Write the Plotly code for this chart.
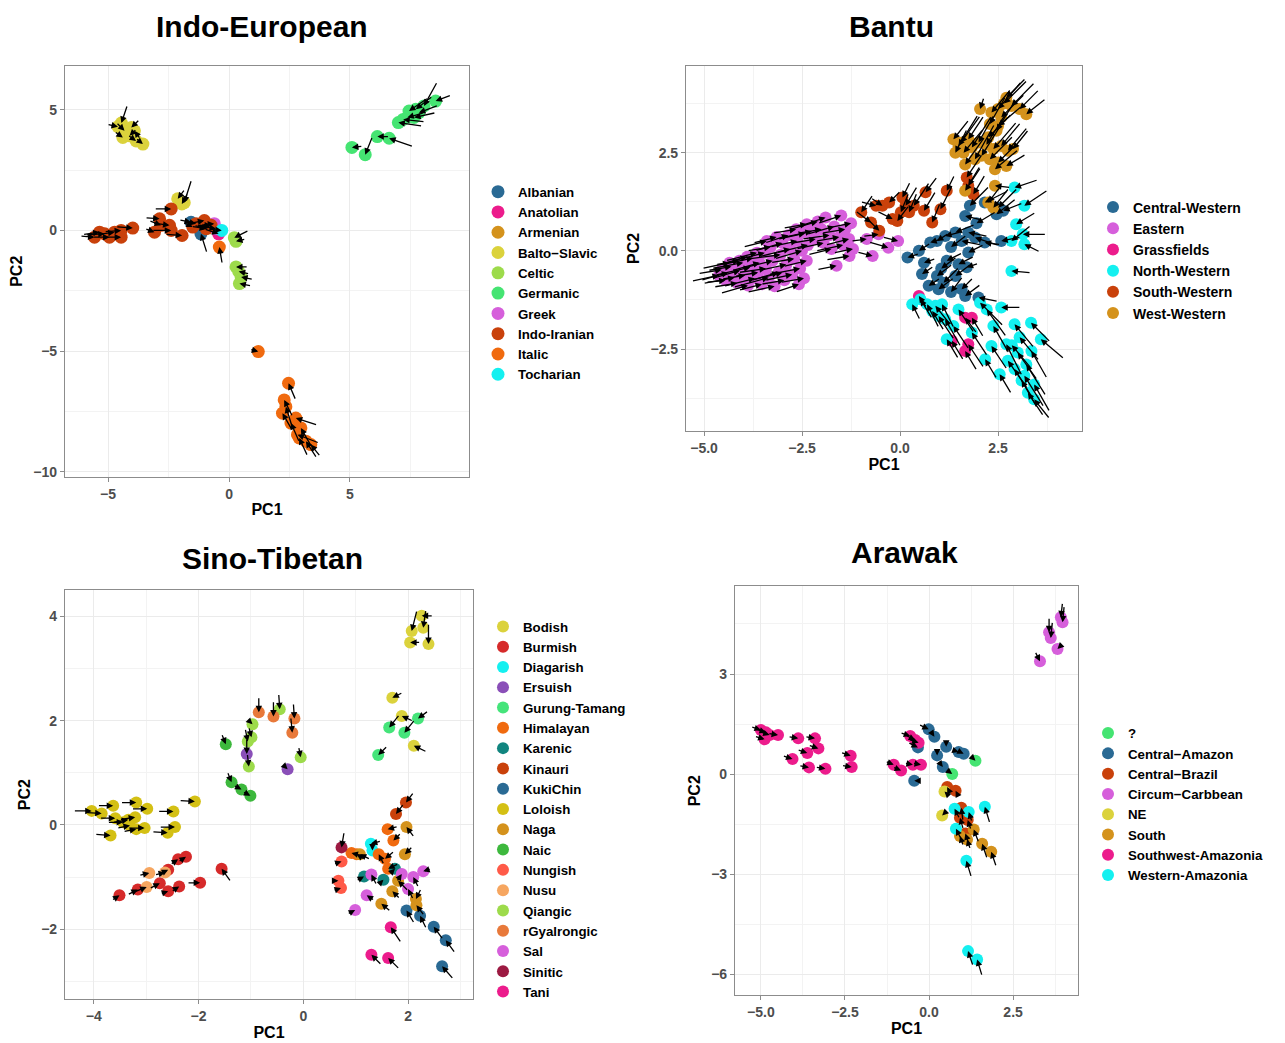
import plotly.graph_objects as go

# ---------------- DATA (x, y, tail_dx, tail_dy) ----------------
# Indo-European
ie_albanian = [(-1.57, 0.34, -0.5, 0.1), (-1.16, -0.14, 0.25, -0.8)]
ie_anatolian = [(-0.43, -0.14, -0.6, 0.2)]
ie_armenian = [(-0.85, 0.10, -0.6, 0.1)]
ie_balto_slavic = [(-4.45, 4.45, 0.25, 0.75), (-4.59, 4.30, -0.45, 0.1), (-4.32, 4.13, -0.35, 0.35),
                   (-4.04, 4.26, 0.35, 0.35), (-4.39, 3.85, -0.35, 0.25), (-4.11, 3.92, 0.3, 0.3),
                   (-3.84, 3.71, -0.35, 0.25), (-3.56, 3.58, -0.3, 0.25), (-3.91, 4.13, 0.25, -0.35),
                   (-2.12, 1.31, 0.3, 0.4), (-1.85, 1.15, 0.3, 0.95), (-1.95, 1.10, 0.25, 0.45)]
ie_celtic = [(0.22, -0.30, 0.6, 0.3), (0.29, -0.45, 0.4, 0.1), (0.29, -1.51, 0.5, 0.0),
             (0.40, -1.70, 0.45, -0.1), (0.50, -1.93, 0.5, -0.1), (0.43, -2.20, 0.5, -0.1)]
ie_germanic = [(5.08, 3.44, 0.45, 0.05), (5.63, 3.14, 0.3, 0.75), (6.13, 3.89, 0.5, 0.0),
               (6.62, 3.82, 1.0, -0.35), (7.00, 4.47, 1.0, -0.15), (7.37, 4.68, 0.7, 0.2),
               (7.44, 4.95, 0.8, 0.55), (7.72, 5.02, 0.7, 0.55), (8.06, 5.16, 0.55, 1.0),
               (8.54, 5.36, 0.65, 0.25), (7.65, 4.68, 0.9, 0.2), (7.85, 4.88, 0.8, 0.3),
               (7.20, 4.60, 0.9, -0.1)]
ie_greek = [(-0.61, 0.28, -0.5, -0.05), (-0.54, 0.07, -0.6, 0.1)]
ie_indo_iranian = [(-5.56, -0.28, -0.6, 0.05), (-5.35, -0.07, -0.7, -0.1), (-5.14, -0.14, -0.8, -0.05),
                   (-4.94, -0.28, -0.7, 0.0), (-4.73, -0.07, -0.7, -0.1), (-4.46, 0.00, -0.7, -0.05),
                   (-4.46, -0.28, -0.6, 0.0), (-3.98, 0.10, -0.7, 0.05), (-2.39, 0.89, -0.7, 0.0),
                   (-2.87, 0.48, -0.6, 0.05), (-3.08, -0.07, -0.4, 0.15), (-2.81, 0.21, -0.5, 0.2),
                   (-2.46, 0.21, -0.7, 0.1), (-2.39, 0.00, -0.8, 0.0), (-1.94, -0.21, -0.7, 0.05),
                   (-1.50, 0.14, -0.4, 0.2), (-1.02, 0.41, -0.5, -0.1), (-0.95, 0.07, -0.6, 0.1),
                   (-1.36, 0.28, -0.5, 0.1), (-0.74, 0.21, -0.6, 0.0)]
ie_italic = [(-0.40, -0.69, 0.12, -0.7), (1.21, -5.02, -0.35, 0.1), (2.46, -6.33, 0.3, -0.7),
             (2.28, -7.02, 0.35, -0.7), (2.21, -7.57, 0.4, -0.7), (2.76, -7.77, 0.9, -0.3),
             (2.56, -7.98, 0.35, -0.8), (2.83, -8.46, 0.9, -0.35), (2.97, -8.18, 0.45, -0.8),
             (3.18, -8.73, 0.45, -0.7), (3.38, -8.87, 0.4, -0.5), (2.90, -8.60, 0.35, -0.75),
             (2.35, -7.30, 0.25, -0.8)]
ie_tocharian = [(-0.30, 0.00, -0.5, 0.05)]

# Bantu
ba_central_western = [(1.78, 1.15, 0.5, 0.5), (1.66, 0.89, 0.4, -0.1), (2.16, 1.23, 0.6, 0.3),
                      (2.50, 1.10, 0.5, 0.5), (2.63, 1.02, 0.5, 0.2), (2.46, 0.93, 0.5, 0.4),
                      (1.74, 0.47, 0.5, -0.1), (1.41, 0.47, 0.5, 0.2), (1.15, 0.38, 0.4, 0.1),
                      (0.94, 0.25, 0.3, 0.2), (1.57, 0.25, 0.5, -0.1), (1.91, 0.34, 0.6, -0.2),
                      (1.74, -0.04, 0.4, 0.2), (2.16, 0.21, 0.4, -0.05), (2.58, 0.25, 0.5, 0.1),
                      (0.77, 0.21, 0.3, 0.1), (0.48, 0.00, 0.3, 0.2), (0.19, -0.17, 0.3, 0.1),
                      (0.61, -0.30, 0.3, 0.1), (1.19, -0.25, 0.4, 0.2), (1.49, -0.34, 0.4, 0.2),
                      (1.70, -0.42, 0.3, 0.1), (0.56, -0.59, 0.3, 0.2), (0.94, -0.64, 0.4, 0.3),
                      (0.73, -0.89, 0.3, 0.2), (1.11, -0.81, 0.4, 0.4), (1.41, -0.64, 0.4, 0.3),
                      (1.57, -0.98, 0.3, 0.3), (1.66, -1.15, 0.4, 0.3), (2.00, -1.19, 0.5, -0.1),
                      (0.98, -0.98, 0.4, 0.3), (1.30, -1.05, 0.3, 0.4), (1.95, 0.70, 0.5, 0.3),
                      (1.30, 0.10, 0.4, 0.3), (1.05, -0.45, 0.4, 0.3)]
ba_eastern = [(-4.62, -0.62, -0.7, -0.15), (-4.55, -0.48, -0.6, -0.1), (-4.45, -0.75, -0.5, -0.05),
              (-4.38, -0.55, -0.7, -0.2), (-4.30, -0.40, -0.6, -0.1), (-4.22, -0.68, -0.8, -0.15),
              (-4.15, -0.82, -0.6, -0.1), (-4.08, -0.50, -0.7, -0.2), (-4.00, -0.30, -0.8, -0.15),
              (-3.95, -0.62, -0.6, -0.1), (-3.88, -0.88, -0.7, -0.2), (-3.82, -0.42, -0.9, -0.2),
              (-3.75, -0.18, -0.7, -0.15), (-3.70, -0.70, -0.8, -0.2), (-3.62, -0.55, -0.6, -0.1),
              (-3.58, -0.30, -0.7, -0.2), (-3.52, -0.85, -0.6, -0.15), (-3.45, -0.05, -0.8, -0.2),
              (-3.42, -0.45, -0.7, -0.1), (-3.35, -0.68, -0.9, -0.25), (-3.30, 0.10, -0.6, -0.1),
              (-3.25, -0.25, -0.8, -0.2), (-3.20, -0.90, -0.7, -0.15), (-3.15, 0.35, -0.6, -0.15),
              (-3.10, -0.55, -0.7, -0.2), (-3.05, -0.10, -0.8, -0.1), (-3.00, 0.20, -0.7, -0.2),
              (-2.95, -0.75, -0.6, -0.1), (-2.90, -0.35, -0.7, -0.15), (-2.85, 0.40, -0.6, -0.2),
              (-2.80, 0.05, -0.8, -0.2), (-2.75, -0.60, -0.7, -0.15), (-2.70, -0.20, -0.6, -0.1),
              (-2.62, 0.25, -0.7, -0.15), (-2.58, -0.85, -0.6, -0.2), (-2.55, -0.45, -0.8, -0.15),
              (-2.50, 0.00, -0.7, -0.2), (-2.45, -0.70, -0.6, -0.1), (-2.42, 0.45, -0.7, -0.15),
              (-2.38, -0.25, -0.6, -0.15), (-2.35, 0.15, -0.8, -0.2), (-2.38, 0.68, -0.6, -0.1),
              (-2.25, 0.50, -0.7, -0.15), (-2.15, 0.30, -0.6, -0.1), (-2.10, 0.75, -0.7, -0.2),
              (-2.00, 0.55, -0.6, -0.1), (-1.95, 0.20, -0.7, -0.15), (-1.90, 0.85, -0.6, -0.2),
              (-1.80, 0.40, -0.7, -0.1), (-1.75, 0.05, -0.6, -0.15), (-1.68, 0.62, -0.7, -0.2),
              (-1.62, -0.38, -0.5, -0.1), (-1.55, 0.35, -0.6, -0.1), (-1.50, 0.90, -0.6, -0.2),
              (-1.45, 0.15, -0.7, -0.15), (-1.40, 0.55, -0.6, -0.1), (-1.30, 0.30, -0.6, -0.15),
              (-1.29, -0.13, -0.6, -0.1), (-1.25, 0.70, -0.5, -0.1), (-1.20, 0.05, -0.5, -0.1),
              (-0.85, 0.30, -0.4, -0.05), (-0.70, -0.13, -0.4, 0.1), (-0.55, 0.42, -0.4, -0.05),
              (-0.30, 0.08, -0.5, 0.15), (-0.05, 0.25, -0.4, 0.1), (-4.35, -0.30, -0.7, -0.15),
              (-3.90, -0.15, -0.7, -0.2), (-3.40, 0.25, -0.6, -0.15), (-3.65, -0.05, -0.8, -0.2),
              (-4.10, -0.25, -0.6, -0.1), (-3.00, -0.55, -0.8, -0.2), (-2.65, 0.55, -0.6, -0.1)]
ba_grassfields = [(0.48, -1.15, 0.2, -0.3), (1.66, -1.70, 0.3, -0.4), (1.83, -1.70, 0.3, -0.5),
                  (1.32, -2.29, 0.3, -0.5), (1.66, -2.55, 0.3, -0.5), (1.74, -2.38, 0.4, -0.6)]
ba_north_western = [(2.92, 1.61, 0.6, 0.2), (3.17, 1.15, 0.6, 0.4), (2.96, 0.68, 0.5, 0.3),
                    (3.13, 0.42, 0.6, 0.0), (2.84, 0.25, 0.5, 0.4), (3.17, 0.17, 0.4, -0.2),
                    (2.84, -0.51, 0.5, -0.05), (0.31, -1.36, 0.2, -0.4), (0.52, -1.23, 0.3, -0.5),
                    (0.69, -1.36, 0.3, -0.6), (0.90, -1.40, 0.4, -0.5), (1.07, -1.36, 0.3, -0.6),
                    (0.98, -1.66, 0.4, -0.6), (0.82, -1.53, 0.3, -0.5), (1.15, -1.74, 0.4, -0.7),
                    (1.36, -1.91, 0.4, -0.6), (1.19, -2.25, 0.3, -0.5), (1.49, -1.49, 0.4, -0.6),
                    (2.04, -1.32, 0.6, -0.6), (2.21, -1.49, 0.5, -0.7), (2.58, -1.44, 0.5, 0.0),
                    (2.38, -1.91, 0.4, -0.7), (2.92, -1.87, 0.5, -0.6), (3.34, -1.83, 0.5, -0.5),
                    (3.59, -2.25, 0.6, -0.5), (2.71, -2.38, 0.4, -0.8), (2.17, -2.76, 0.3, -0.5),
                    (2.54, -3.14, 0.3, -0.5), (2.75, -2.80, 0.5, -0.7), (2.92, -3.01, 0.5, -0.8),
                    (3.17, -3.18, 0.5, -0.8), (3.42, -3.40, 0.4, -0.7), (3.26, -3.61, 0.4, -0.6),
                    (3.42, -3.78, 0.4, -0.5), (3.00, -2.59, 0.5, -0.7), (3.22, -2.89, 0.5, -0.8),
                    (2.33, -2.42, 0.4, -0.6), (1.83, -2.08, 0.4, -0.6), (3.05, -2.20, 0.5, -0.6),
                    (3.35, -2.55, 0.4, -0.7), (3.10, -3.30, 0.4, -0.7), (2.85, -2.40, 0.5, -0.6)]
ba_south_western = [(-0.99, 0.98, 0.3, 0.45), (-0.74, 0.72, -0.4, 0.3), (-0.61, 1.15, -0.4, 0.1),
                    (-0.53, 0.51, -0.3, 0.3), (-0.45, 1.15, -0.3, 0.2), (-0.28, 1.23, 0.3, 0.3),
                    (-0.19, 0.81, -0.4, 0.2), (-0.07, 0.76, 0.3, 0.4), (0.02, 0.98, 0.2, 0.5),
                    (0.06, 1.36, 0.2, 0.4), (0.14, 1.15, 0.3, 0.5), (0.23, 0.98, 0.2, 0.5),
                    (0.35, 1.15, 0.4, 0.6), (0.61, 1.02, 0.3, 0.5), (0.65, 1.49, 0.3, 0.4),
                    (0.82, 0.72, 0.2, 0.5), (1.03, 1.06, 0.3, 0.6), (1.19, 1.53, 0.2, 0.4),
                    (1.70, 1.87, 0.4, 0.6), (1.74, 1.66, 0.3, 0.5), (1.87, 1.44, 0.3, 0.5)]
ba_west_western = [(2.71, 3.90, 0.5, 0.5), (2.84, 3.69, 0.6, 0.6), (3.05, 3.61, 0.5, 0.5),
                   (3.22, 3.48, 0.5, 0.4), (2.04, 3.61, 0.1, 0.3), (2.33, 3.52, 0.5, 0.6),
                   (2.50, 3.61, 0.6, 0.7), (2.58, 3.40, 0.6, 0.6), (2.29, 3.23, 0.4, 0.7),
                   (2.46, 3.06, 0.5, 0.8), (2.50, 3.18, 0.6, 0.5), (1.36, 2.84, 0.4, 0.5),
                   (1.49, 2.67, 0.5, 0.8), (1.41, 2.50, 0.3, 0.6), (1.62, 2.50, 0.5, 0.6),
                   (1.74, 2.84, 0.4, 0.6), (1.83, 2.63, 0.5, 0.8), (2.00, 2.76, 0.4, 0.7),
                   (2.25, 2.89, 0.6, 0.6), (2.38, 2.59, 0.6, 0.7), (2.58, 2.67, 0.5, 0.6),
                   (2.75, 2.55, 0.5, 0.6), (2.88, 2.59, 0.4, 0.5), (2.08, 2.42, 0.5, 0.8),
                   (2.29, 2.33, 0.6, 0.6), (2.50, 2.25, 0.5, 0.5), (2.71, 2.16, 0.5, 0.3),
                   (2.42, 2.08, 0.6, 0.5), (1.91, 2.33, 0.5, 0.9), (1.66, 2.20, 0.5, 0.7),
                   (2.42, 1.66, 0.4, -0.05), (1.66, 1.53, 0.4, 0.6), (2.25, 1.23, 0.3, 0.4),
                   (2.38, 1.10, 0.4, 0.5), (1.55, 2.75, 0.5, 0.7), (2.65, 3.75, 0.6, 0.6),
                   (2.20, 2.70, 0.5, 0.8)]

# Sino-Tibetan
st_bodish = [(2.26, 4.01, 0.22, 0.0), (2.07, 3.72, 0.1, 0.4), (2.29, 3.78, 0.05, 0.35),
             (2.04, 3.50, 0.2, 0.0), (2.39, 3.47, 0.0, 0.4), (1.70, 2.44, 0.2, 0.1),
             (1.88, 2.09, 0.22, -0.1), (2.11, 1.52, 0.25, -0.12)]
st_burmish = [(-2.24, -0.61, -0.15, -0.1), (-2.39, -0.66, -0.15, -0.1), (-2.58, -0.86, -0.2, -0.1),
              (-2.74, -1.12, -0.2, -0.1), (-2.37, -1.18, -0.15, -0.1), (-2.58, -1.27, -0.15, -0.05),
              (-3.16, -1.24, -0.2, -0.1), (-3.51, -1.35, -0.15, -0.1), (-1.97, -1.11, -0.25, 0.0),
              (-1.56, -0.84, 0.18, -0.25)]
st_diagarish = [(1.29, -0.36, 0.2, 0.05), (1.32, -0.49, 0.0, 0.12)]
st_ersuish = [(-1.08, 1.36, 0.0, 0.3), (-0.30, 1.07, -0.1, 0.1)]
st_gurung_tamang = [(2.19, 2.04, 0.2, 0.15), (1.64, 1.87, 0.2, 0.25), (1.93, 1.77, 0.2, 0.25),
                    (1.43, 1.34, 0.18, 0.18)]
st_himalayan = [(1.61, -0.08, 0.2, 0.05), (1.72, -0.30, 0.15, 0.15), (1.56, -0.65, 0.18, 0.15),
                (1.44, -0.56, 0.1, -0.2), (0.92, -0.54, 0.2, -0.05), (1.62, -0.84, 0.2, 0.1),
                (1.02, -0.56, 0.15, -0.1)]
st_karenic = [(1.75, -0.84, -0.1, -0.1), (1.16, -0.99, -0.15, -0.08), (1.53, -1.05, -0.1, -0.1)]
st_kinauri = [(1.96, 0.43, 0.15, 0.2), (1.77, 0.21, 0.15, 0.2)]
st_kukichin = [(1.97, -1.64, 0.15, -0.25), (2.23, -1.74, 0.12, -0.25), (2.49, -1.95, 0.18, -0.25),
               (2.72, -2.21, 0.18, -0.25), (2.65, -2.71, 0.22, -0.25)]
st_loloish = [(-4.04, 0.27, -0.35, 0.0), (-3.85, 0.22, -0.3, 0.02), (-3.63, 0.37, -0.3, 0.0),
              (-3.19, 0.43, -0.3, 0.0), (-2.98, 0.31, -0.3, 0.0), (-2.48, 0.26, -0.3, 0.0),
              (-2.45, -0.04, -0.3, 0.0), (-2.59, -0.15, -0.3, 0.02), (-2.07, 0.45, -0.3, 0.02),
              (-3.59, 0.13, -0.3, 0.0), (-3.44, 0.05, -0.3, 0.0), (-3.34, 0.10, -0.3, -0.05),
              (-3.21, 0.15, -0.3, -0.05), (-3.31, -0.01, -0.25, -0.05), (-3.19, -0.08, -0.25, -0.05),
              (-3.03, -0.06, -0.3, 0.0), (-3.68, -0.20, -0.3, 0.02)]
st_naga = [(1.97, -0.04, 0.15, -0.2), (1.94, -0.56, 0.15, 0.15), (1.49, -1.51, 0.18, -0.15),
           (1.70, -1.27, 0.15, -0.15), (2.15, -1.42, 0.1, 0.2), (2.16, -1.54, 0.15, -0.2),
           (1.81, -1.07, 0.2, -0.2), (1.08, -0.56, 0.2, -0.1)]
st_naic = [(-1.48, 1.55, -0.08, 0.2), (-1.37, 0.82, -0.08, 0.2), (-1.18, 0.68, -0.15, 0.08),
           (-1.01, 0.56, -0.15, 0.08)]
st_nungish = [(0.73, -0.70, -0.15, -0.05), (0.67, -1.07, -0.12, 0.0), (0.72, -1.21, -0.15, -0.05)]
st_nusu = [(-2.94, -0.92, -0.2, -0.05), (-2.99, -1.19, -0.25, -0.1), (-2.64, -0.91, -0.2, -0.05)]
st_qiangic = [(-0.97, 1.93, -0.1, 0.1), (-1.06, 1.60, -0.05, 0.25), (-0.99, 1.68, -0.05, 0.2),
              (-1.04, 1.12, -0.03, 0.25), (-0.45, 2.22, -0.02, 0.3), (-0.05, 1.30, -0.04, 0.2)]
st_rgyalrongic = [(-0.85, 2.16, 0.0, 0.3), (-0.57, 2.08, 0.0, 0.3), (-0.17, 2.04, -0.02, 0.3),
                  (-0.21, 1.77, -0.03, 0.3)]
st_sal = [(1.30, -0.95, 0.1, -0.2), (1.88, -0.94, -0.1, -0.15), (2.10, -1.00, 0.1, -0.2),
          (2.29, -0.89, 0.15, 0.05), (2.00, -1.23, 0.1, -0.2), (1.21, -1.35, 0.15, -0.1),
          (0.99, -1.63, -0.15, -0.08)]
st_sinitic = [(0.73, -0.43, 0.05, 0.3)]
st_tani = [(1.67, -1.96, 0.2, -0.3), (1.30, -2.49, 0.2, -0.2), (1.62, -2.55, 0.22, -0.22)]

# Arawak
ar_unknown = [(1.38, 0.40, -0.1, 0.1), (0.69, 0.00, -0.2, 0.15)]
ar_central_amazon = [(-0.01, 1.34, -0.3, 0.15), (0.16, 1.12, -0.1, 0.15), (-0.33, 0.80, -0.3, 0.15),
                     (0.51, 0.82, 0.0, 0.2), (0.88, 0.66, -0.15, 0.05), (1.03, 0.61, -0.1, 0.05),
                     (0.24, 0.56, 0.0, 0.2), (0.41, 0.21, -0.15, 0.2), (-0.44, -0.20, 0.2, 0.0)]
ar_central_brazil = [(0.54, -0.39, 0.1, -0.2), (0.79, -0.50, 0.1, -0.2), (0.96, -1.01, 0.05, -0.4),
                     (0.92, -1.31, 0.1, -0.35), (1.15, -1.38, 0.1, -0.3), (1.08, -1.78, 0.1, -0.3)]
ar_circum_carbbean = [(3.97, 4.55, 0.05, 0.5), (3.92, 4.70, 0.05, 0.45), (3.57, 4.25, 0.0, 0.45),
                      (3.62, 4.08, 0.05, 0.5), (3.82, 3.75, 0.15, 0.15), (3.30, 3.38, -0.15, 0.3)]
ar_ne = [(0.46, -0.52, 0.1, -0.1), (0.39, -1.24, 0.1, 0.1)]
ar_south = [(1.33, -1.66, 0.15, -0.4), (1.58, -2.09, 0.15, -0.45), (1.85, -2.33, 0.15, -0.45),
            (0.92, -1.86, 0.1, -0.3), (1.13, -1.96, 0.1, -0.3)]
ar_southwest_amazonia = [(-5.00, 1.32, -0.3, 0.1), (-4.89, 1.04, -0.3, 0.1), (-4.74, 1.17, -0.3, 0.1),
                         (-4.49, 1.17, -0.3, 0.05), (-3.89, 1.07, -0.3, 0.05), (-3.39, 1.07, -0.3, 0.05),
                         (-3.29, 0.77, -0.3, 0.1), (-3.62, 0.63, -0.3, 0.1), (-4.06, 0.45, -0.3, 0.1),
                         (-3.57, 0.20, -0.3, 0.05), (-3.08, 0.16, -0.3, 0.05), (-2.33, 0.55, -0.3, 0.1),
                         (-2.30, 0.21, -0.3, 0.05), (-1.05, 0.28, -0.25, 0.1), (-0.83, 0.11, -0.25, 0.1),
                         (-0.48, 0.28, -0.25, 0.05), (-0.24, 0.28, -0.25, 0.05), (-0.56, 1.14, -0.3, 0.1),
                         (-0.31, 0.94, -0.3, 0.1), (-0.41, 1.02, -0.3, 0.15), (-4.85, 1.25, -0.3, 0.1)]
ar_western_amazonia = [(1.66, -0.98, 0.15, -0.5), (0.76, -1.04, 0.15, -0.3), (1.18, -1.14, 0.1, -0.3),
                       (0.80, -1.64, 0.15, -0.3), (1.11, -2.60, 0.15, -0.5), (1.16, -5.31, 0.15, -0.45),
                       (1.43, -5.56, 0.15, -0.5)]

# ---------------- CATEGORIES / COLOURS ----------------
BLUE, PINK, GOLD, YELLOW = "#2A6A94", "#EC1C8C", "#D4921C", "#DBD23C"
LIME, GREEN, ORCHID, RUST = "#9DDB4B", "#45E472", "#D65FDB", "#C9410B"
ORANGE, CYAN = "#F06A0F", "#14F0F0"

panel_ie = [("Albanian", BLUE, ie_albanian), ("Anatolian", PINK, ie_anatolian),
            ("Armenian", GOLD, ie_armenian), ("Balto\u2212Slavic", YELLOW, ie_balto_slavic),
            ("Celtic", LIME, ie_celtic), ("Germanic", GREEN, ie_germanic),
            ("Greek", ORCHID, ie_greek), ("Indo-Iranian", RUST, ie_indo_iranian),
            ("Italic", ORANGE, ie_italic), ("Tocharian", CYAN, ie_tocharian)]
panel_bantu = [("Central-Western", BLUE, ba_central_western), ("Eastern", ORCHID, ba_eastern),
               ("Grassfields", PINK, ba_grassfields), ("North-Western", CYAN, ba_north_western),
               ("South-Western", RUST, ba_south_western), ("West-Western", GOLD, ba_west_western)]
panel_st = [("Bodish", YELLOW, st_bodish), ("Burmish", "#D62A2A", st_burmish),
            ("Diagarish", CYAN, st_diagarish), ("Ersuish", "#8A4FB8", st_ersuish),
            ("Gurung-Tamang", "#45E47A", st_gurung_tamang), ("Himalayan", ORANGE, st_himalayan),
            ("Karenic", "#11857F", st_karenic), ("Kinauri", RUST, st_kinauri),
            ("KukiChin", BLUE, st_kukichin), ("Loloish", "#D4C014", st_loloish),
            ("Naga", GOLD, st_naga), ("Naic", "#3DB83D", st_naic),
            ("Nungish", "#FF5A48", st_nungish), ("Nusu", "#F6A660", st_nusu),
            ("Qiangic", LIME, st_qiangic), ("rGyalrongic", "#E8793A", st_rgyalrongic),
            ("Sal", ORCHID, st_sal), ("Sinitic", "#9C1A42", st_sinitic), ("Tani", PINK, st_tani)]
panel_ar = [("?", GREEN, ar_unknown), ("Central\u2212Amazon", BLUE, ar_central_amazon),
            ("Central\u2212Brazil", RUST, ar_central_brazil),
            ("Circum\u2212Carbbean", ORCHID, ar_circum_carbbean), ("NE", YELLOW, ar_ne),
            ("South", GOLD, ar_south), ("Southwest-Amazonia", PINK, ar_southwest_amazonia),
            ("Western-Amazonia", CYAN, ar_western_amazonia)]

titles = ["Indo-European", "Bantu", "Sino-Tibetan", "Arawak"]

# ---------------- LAYOUT ----------------
OFF = 8                     # page body margin of the browser
W, H = 1285 - OFF, 1043 - OFF
FONT = "Liberation Sans, Arial, sans-serif"


def px(x):
    return (x - OFF) / W


def py(y):
    return 1 - (y - OFF) / H


panels = [
    dict(data=panel_ie, box=(65, 66, 469, 478), xr=(-6.78, 9.92), yr=(-10.2, 6.82),
         xd=5, yd=5, xf="", yf="", leg=(478, 177), lf=13.3, title=(262, 8.5, "top"), mk=13),
    dict(data=panel_bantu, box=(686, 66, 1082, 432), xr=(-5.46, 4.64), yr=(-4.58, 4.71),
         xd=2.5, yd=2.5, xf=".1f", yf=".1f", leg=(1093, 192), lf=14, title=(891, 8.5, "top"), mk=12),
    dict(data=panel_st, box=(65, 592, 473, 1002), xr=(-4.55, 3.24), yr=(-3.34, 4.5),
         xd=2, yd=2, xf="", yf="", leg=(483, 613), lf=13.3, title=(272, 560, "middle"), mk=12),
    dict(data=panel_ar, box=(735, 588, 1078, 998), xr=(-5.77, 4.43), yr=(-6.63, 5.63),
         xd=2.5, yd=3, xf=".1f", yf="", leg=(1088, 720), lf=13.3, title=(904, 554, "middle"), mk=12),
]

fig = go.Figure()
annotations = []
layout = dict(width=W, height=H, margin=dict(l=0, r=0, t=0, b=0),
              paper_bgcolor="white", plot_bgcolor="white",
              font=dict(family=FONT, color="black"))

for i, p in enumerate(panels, start=1):
    sfx = "" if i == 1 else str(i)
    xa, ya = "x" + sfx, "y" + sfx
    legname = "legend" + sfx
    x0, y0, x1, y1 = p["box"]
    axis_common = dict(showline=True, mirror=True, linecolor="#8C8C8C", linewidth=1.2,
                       showgrid=True, gridcolor="#EBEBEB", gridwidth=1,
                       zeroline=False, ticks="outside", ticklen=4, tickcolor="#8C8C8C",
                       tickfont=dict(family=FONT, size=14, color="#4D4D4D", weight="bold"),
                       title_font=dict(family=FONT, size=16, color="black", weight="bold"))
    layout["xaxis" + sfx] = dict(axis_common, domain=[px(x0), px(x1)], range=list(p["xr"]),
                                 anchor=ya, dtick=p["xd"], tick0=0, tickformat=p["xf"],
                                 minor=dict(dtick=p["xd"] / 2, tick0=0, showgrid=True,
                                            gridcolor="#F3F3F3", ticks=""),
                                 title=dict(text="PC1", standoff=3))
    layout["yaxis" + sfx] = dict(axis_common, domain=[py(y1), py(y0)], range=list(p["yr"]),
                                 anchor=xa, dtick=p["yd"], tick0=0, tickformat=p["yf"],
                                 minor=dict(dtick=p["yd"] / 2, tick0=0, showgrid=True,
                                            gridcolor="#F3F3F3", ticks=""),
                                 title=dict(text="PC2", standoff=6))
    lx, ly = p["leg"]
    layout[legname] = dict(x=px(lx), y=py(ly), xanchor="left", yanchor="top",
                           bgcolor="rgba(0,0,0,0)", tracegroupgap=0,
                           font=dict(family=FONT, size=p["lf"], color="black", weight="bold"))
    for name, color, pts in p["data"]:
        xs = [t[0] for t in pts]
        ys = [t[1] for t in pts]
        fig.add_trace(go.Scatter(x=xs, y=ys, mode="markers", name=name, legend=legname,
                                 xaxis=xa, yaxis=ya,
                                 marker=dict(color=color, size=p["mk"], line=dict(width=0))))
        for (x, y, dx, dy) in pts:
            annotations.append(dict(x=x, y=y, ax=x + dx, ay=y + dy, xref=xa, yref=ya,
                                    axref=xa, ayref=ya, text="", showarrow=True,
                                    arrowhead=2, arrowsize=1.0, arrowwidth=1.3,
                                    arrowcolor="black", standoff=0, startstandoff=0))
    tx, ty, tanchor = p["title"]
    annotations.append(dict(x=px(tx), y=py(ty), xref="paper", yref="paper",
                            text=titles[i - 1], showarrow=False,
                            xanchor="center", yanchor=tanchor,
                            font=dict(family=FONT, size=30, color="black", weight="bold")))

layout["annotations"] = annotations
fig.update_layout(**layout)
fig.write_html("out.html")
